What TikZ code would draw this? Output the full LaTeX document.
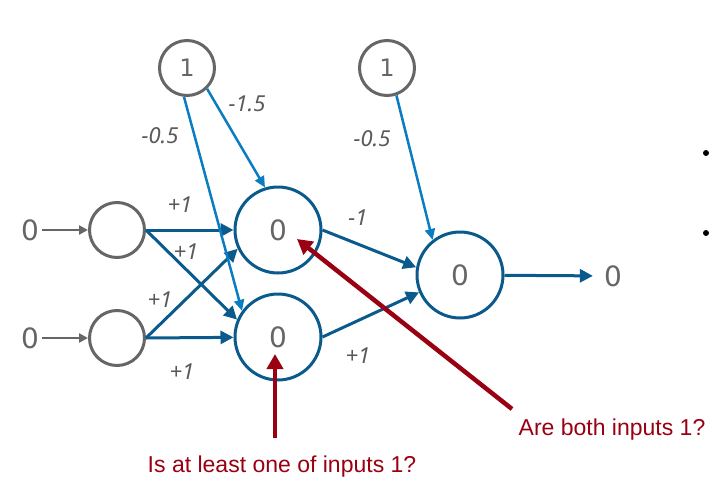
\documentclass[tikz,border=0pt]{standalone}
\usepackage{fontspec}
\setmainfont{DejaVu Sans}
\newfontfamily\redfont{Liberation Sans}
\newfontfamily\lblfont{Noto Sans}
\usetikzlibrary{arrows.meta}
\definecolor{nblue}{HTML}{0B5A8C}
\definecolor{lblue}{HTML}{0A7DC2}
\definecolor{ngray}{HTML}{666666}
\definecolor{lgray}{HTML}{5A5A5A}
\definecolor{dred}{HTML}{990012}
\tikzset{
  inp/.style={circle, draw=ngray, line width=3pt, minimum size=55pt, inner sep=0pt},
  bias/.style={inp, text=ngray, font=\fontsize{24}{24}\selectfont},
  hid/.style={circle, draw=nblue, line width=3pt, minimum size=86pt, inner sep=0pt, text=ngray, font=\fontsize{28}{28}\selectfont},
  val/.style={text=ngray, font=\fontsize{28}{28}\selectfont, inner sep=3pt},
  wt/.style={text=lgray, font=\lblfont\itshape\fontsize{22}{22}\selectfont, inner sep=0pt},
  gedge/.style={draw=ngray, line width=2.5pt, -{Triangle[length=9pt,width=9pt]}},
  nedge/.style={draw=nblue, line width=3pt, -{Triangle[length=13pt,width=13pt]}},
  bedge/.style={draw=lblue, line width=2.5pt, -{Triangle[length=11pt,width=10pt]}},
  redarr/.style={draw=dred, line width=4.5pt, -{Triangle[length=15pt,width=16pt]}},
  qtext/.style={text=dred, font=\redfont\fontsize{23}{23}\selectfont, inner sep=0pt},
  dot/.style={circle, fill=black, inner sep=0pt, minimum size=6pt}
}
\begin{document}
\begin{tikzpicture}[x=1pt,y=-1pt]
\useasboundingbox (0,0) rectangle (713,488);
% nodes
\node[bias] (b1) at (187,68) {1};
\node[bias] (b2) at (387,68) {1};
\node[inp] (i1) at (117,230) {};
\node[inp] (i2) at (117,338) {};
\node[hid] (h1) at (278,230) {0};
\node[hid] (h2) at (278,337) {0};
\node[hid] (o) at (460,275) {0};
\node[val] (x1) at (30,230) {0};
\node[val] (x2) at (30,338) {0};
\node[val] (y) at (613,276) {0};
\node[dot] (d1) at (706,153) {};
\node[dot] (d2) at (706,233) {};
% connectors
\draw[gedge] (x1) -- (i1);
\draw[gedge] (x2) -- (i2);
\draw[nedge] (i1.east) -- (h1);
\draw[nedge] (i1.east) -- (h2.157);
\draw[nedge] (i2.east) -- (h1.205);
\draw[nedge] (i2.east) -- (h2);
\draw[nedge] (h1.east) -- (o.170);
\draw[nedge] (h2.east) -- (o.203);
\draw[nedge, shorten >=8pt] (o) -- (y);
\draw[bedge] (b1.-46) -- (h1.107);
\draw[bedge] (b1.-96) -- (h2.144);
\draw[bedge] (b2.-71) -- (o.128);
% weights
\node[wt] (w1) at (247,104) {-1.5};
\node[wt] (w2) at (160,136) {-0.5};
\node[wt] (w3) at (372,139) {-0.5};
\node[wt] (w4) at (180,205) {+1};
\node[wt] (w5) at (186,252) {+1};
\node[wt] (w6) at (160,300) {+1};
\node[wt] (w7) at (182,372) {+1};
\node[wt] (w8) at (358,218) {-1};
\node[wt] (w9) at (358,356) {+1};
% questions
\node[qtext] (q2) at (612,430) {Are both inputs 1?};
\node[qtext] (q1) at (282,467) {Is at least one of inputs 1?};
\coordinate (r1s) at (275,438);
\coordinate (r1t) at (275,354);
\coordinate (r2s) at (512,409);
\coordinate (r2t) at (297,239);
\draw[redarr] (r1s) -- (r1t);
\draw[redarr] (r2s) -- (r2t);
\end{tikzpicture}
\end{document}
